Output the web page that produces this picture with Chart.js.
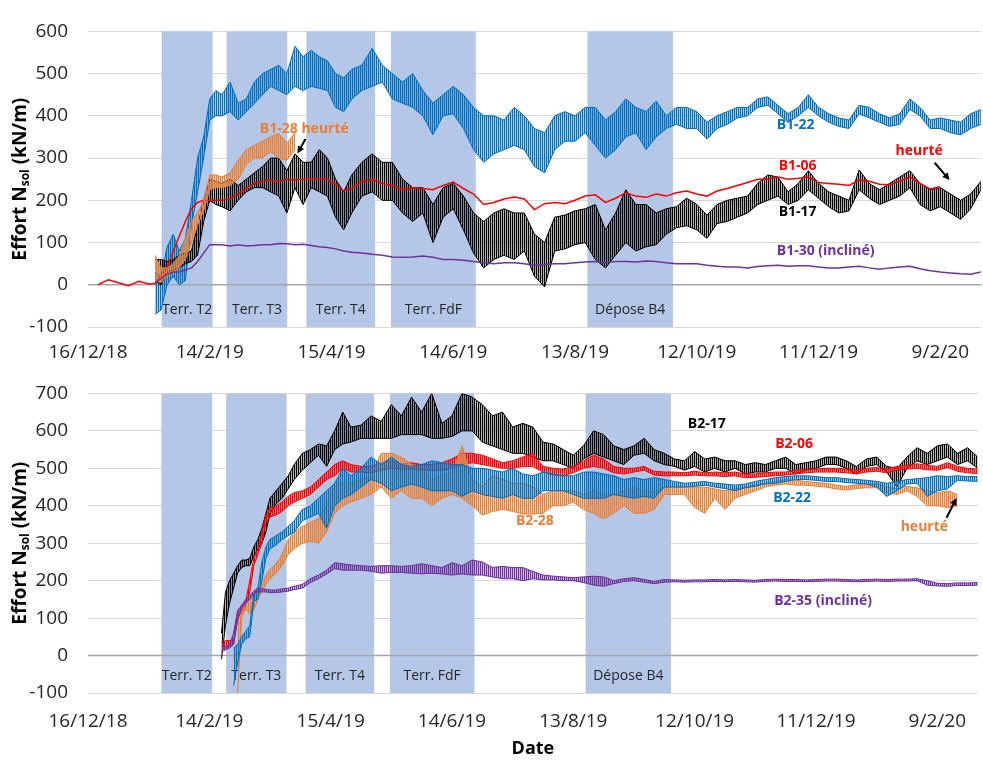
<!DOCTYPE html>
<html>
<head>
<meta charset="utf-8">
<script src="https://cdn.jsdelivr.net/npm/chart.js@4.4.1/dist/chart.umd.min.js"></script>
<style>
  body { margin: 0; background: #fff; }
  #wrap { width: 983px; height: 760px; position: relative; }
  canvas { display: block; }
  #warn { position: absolute; left: 100px; top: 0; color: #f00; font: 12px sans-serif; }
</style>
</head>
<body>
<div id="wrap">
  <canvas id="topChart" width="983" height="362"></canvas>
  <canvas id="bottomChart" width="983" height="398"></canvas>
  <div id="warn"></div>
</div>
<script>
// x axis: days since 16/12/18
const tickDays = [0, 60, 120, 180, 240, 300, 360, 420];
const tickLabels = ["16/12/18", "14/2/19", "15/4/19", "14/6/19", "13/8/19", "12/10/19", "11/12/19", "9/2/20"];

// construction phases (shaded)
const phaseNames = ["Terr. T2", "Terr. T3", "Terr. T4", "Terr. FdF", "Dépose B4"];
const phaseStart = [36.3, 68.3, 107.6, 149.3, 246.1];
const phaseEnd = [61.4, 98.2, 141.5, 191.1, 288.3];

// ---- top panel (B1) ----
const topDays = [5, 10, 15, 20, 25, 30,
  33, 36, 39, 42, 45, 48, 51, 54, 57, 60, 63, 66,
  70, 74, 78, 82, 86, 90, 94, 98, 102, 106, 110, 114, 118, 122, 126, 130,
  135, 140, 145, 150, 155, 160, 165, 170, 175, 180,
  185, 190, 195, 200, 205, 210, 215, 220, 225, 230,
  235, 240, 245, 250, 255, 260, 265, 270, 275, 280,
  285, 290, 295, 300, 305, 310, 315, 320, 325, 330,
  335, 340, 345, 350, 355, 360, 365, 370, 375, 380,
  385, 390, 395, 400, 405, 410, 415, 420, 425, 430,
  435, 440];

const b1_06 = [0, 12, 5, -2, 8, 2,
  3, 22, 40, 80, 115, 150, 180, 195, 200, 200, 200, 200,
  203, 215, 228, 240, 245, 248, 245, 250, 248, 250, 252, 250, 250, 238, 222, 228,
  245, 250, 240, 235, 225, 230, 228, 225, 235, 243,
  228, 215, 190, 195, 203, 208, 203, 178, 192, 195,
  192, 200, 210, 213, 195, 205, 218, 210, 207, 215,
  210, 218, 222, 215, 210, 222, 228, 235, 242, 250,
  250, 255, 250, 252, 255, 242, 240, 238, 235, 248,
  245, 238, 237, 245, 255, 240, 227, 232, null, null,
  null, null];

const b1_22_hi = [null, null, null, null, null, null,
  30, 20, 90, 120, 80, 110, 200, 300, 350, 440, 460, 450,
  480, 430, 440, 480, 500, 510, 520, 500, 565, 540, 555, 540, 530, 500, 490, 510,
  520, 560, 520, 500, 480, 500, 460, 430, 450, 470,
  450, 420, 400, 400, 390, 420, 400, 370, 360, 400,
  410, 400, 420, 420, 390, 410, 440, 420, 410, 435,
  400, 420, 420, 410, 385, 400, 410, 420, 420, 440,
  445, 425, 405, 420, 450, 420, 405, 395, 390, 425,
  420, 405, 395, 405, 440, 420, 390, 395, 390, 385,
  405, 415];
const b1_22_lo = [null, null, null, null, null, null,
  -70, -60, 0, 20, 0, 10, 140, 220, 300, 390, 400, 400,
  410, 390, 410, 430, 450, 470, 460, 450, 470, 460, 470, 465, 460, 420, 410, 440,
  460, 470, 480, 440, 430, 420, 400, 355, 400, 405,
  370, 320, 290, 310, 320, 330, 320, 280, 265, 320,
  340, 340, 360, 330, 300, 320, 350, 360, 320, 350,
  370, 380, 370, 370, 345, 370, 380, 395, 400, 420,
  425, 405, 385, 400, 420, 400, 385, 375, 370, 405,
  395, 385, 375, 380, 415, 400, 370, 370, 360, 355,
  370, 380];

const b1_17_hi = [null, null, null, null, null, null,
  60, 60, 55, 60, 70, 75, 80, 140, 200, 250, 245, 240,
  250, 235, 250, 265, 280, 300, 300, 270, 310, 290, 290, 320, 300, 250, 220, 260,
  290, 310, 290, 290, 250, 230, 230, 190, 230, 240,
  210, 170, 150, 170, 180, 170, 170, 120, 100, 160,
  165, 175, 180, 190, 130, 170, 225, 190, 190, 170,
  180, 185, 205, 190, 165, 190, 200, 205, 210, 240,
  260, 255, 220, 240, 270, 240, 220, 210, 200, 272,
  240, 225, 240, 255, 270, 240, 225, 230, 215, 200,
  215, 245];
const b1_17_lo = [null, null, null, null, null, null,
  10, 0, 30, 35, 40, 50, 55, 70, 150, 200, 190, 185,
  175, 200, 220, 230, 230, 220, 210, 170, 230, 190, 230, 220, 210, 160, 130, 170,
  210, 220, 200, 200, 170, 150, 170, 100, 160, 180,
  130, 75, 40, 60, 70, 60, 80, 20, -5, 80,
  85, 95, 100, 60, 40, 70, 100, 80, 90, 95,
  120, 135, 140, 130, 110, 145, 150, 160, 170, 190,
  200, 210, 190, 200, 225, 205, 185, 170, 175, 225,
  205, 190, 200, 210, 230, 190, 175, 185, 170, 155,
  180, 225];

const b1_28_hi = [null, null, null, null, null, null,
  70, 40, 40, 50, 70, 110, 150, 170, 200, 260, 260, 255,
  265, 295, 320, 330, 340, 350, 358, 335, 360];
const b1_28_lo = [null, null, null, null, null, null,
  10, 5, 20, 30, 40, 60, 100, 140, 175, 225, 230, 230,
  235, 250, 285, 300, 300, 315, 300, 295, 320];

const b1_30 = [null, null, null, null, null, null,
  5, 15, 25, 30, 30, 35, 40, 55, 75, 95, 95, 95,
  92, 95, 92, 93, 95, 95, 98, 97, 95, 96, 93, 90, 88, 85, 80, 77,
  75, 72, 70, 66, 65, 66, 68, 65, 60, 60,
  58, 55, 52, 50, 52, 52, 50, 46, 48, 50,
  50, 52, 54, 55, 52, 55, 55, 54, 56, 55,
  52, 50, 50, 50, 46, 44, 42, 42, 40, 43,
  45, 46, 44, 45, 45, 42, 40, 40, 42, 44,
  40, 37, 40, 42, 44, 38, 33, 30, 28, 26,
  25, 30];

// ---- bottom panel (B2) ----
const bottomDays = [66, 68, 70, 72, 74, 76, 78, 80, 82, 84, 86, 88, 90,
  93, 96, 99, 102,
  106, 110, 114, 118, 122, 126, 130,
  135, 140, 145, 150, 155, 160, 165, 170, 175, 180,
  185, 190, 195, 200, 205, 210, 215, 220, 225, 230,
  235, 240, 245, 250, 255, 260, 265, 270, 275, 280,
  285, 290, 295, 300, 305, 310, 315, 320, 325, 330,
  335, 340, 345, 350, 355, 360, 365, 370, 375, 380,
  385, 390, 395, 400, 405, 410, 415, 420, 425, 430,
  435, 440];

const b2_17_hi = [60, 170, 200, 220, 240, 255, 255, 260, 290, 310, 340, 380, 420,
  440, 460, 480, 510,
  540, 550, 565, 560, 600, 650, 610,
  615, 640, 625, 670, 640, 690, 650, 700, 620, 640,
  700, 690, 670, 640, 650, 610, 620, 610, 570, 565,
  550, 535, 560, 600, 590, 560, 550, 560, 580, 550,
  540, 525, 520, 545, 525, 530, 520, 520, 510, 515,
  510, 520, 530, 510, 515, 520, 530, 530, 520, 505,
  525, 530, 505, 500, 530, 555, 540, 560, 565, 540,
  555, 530];
const b2_17_lo = [-10, 80, 140, 180, 220, 235, 240, 240, 265, 285, 300, 330, 380,
  405, 420, 445, 470,
  495, 515, 535, 505, 550, 565, 570,
  580, 580, 580, 580, 590, 590, 590, 580, 580, 585,
  600, 600, 570, 560, 550, 540, 540, 530, 520, 520,
  510, 500, 525, 540, 530, 520, 510, 535, 540, 520,
  510, 505, 495, 505, 490, 500, 490, 500, 485, 490,
  490, 500, 500, 485, 495, 500, 510, 510, 500, 485,
  505, 510, 490, 450, 500, 520, 510, 520, 530, 510,
  520, 500];

const b2_06_hi = [35, 40, 40, 40, 120, 130, 145, 200, 260, 285, 330, 375, 395,
  400, 410, 425, 435,
  440, 450, 470, 490, 510, 520, 510,
  505, 505, 515, 520, 512, 515, 510, 510, 515, 525,
  540, 540, 535, 525, 515, 520, 530, 540, 505, 500,
  498, 505, 520, 535, 525, 505, 500, 500, 505, 492,
  490, 490, 488, 492, 488, 490, 488, 490, 485, 485,
  488, 490, 490, 495, 497, 498, 500, 500, 498, 495,
  500, 502, 498, 505, 508, 512, 508, 505, 515, 505,
  500, 498];
const b2_06_lo = [15, 20, 25, 30, 100, 115, 130, 170, 240, 270, 300, 355, 370,
  375, 385, 400, 410,
  420, 430, 450, 470, 480, 500, 490,
  490, 488, 495, 500, 498, 498, 495, 495, 495, 500,
  510, 515, 510, 505, 500, 500, 505, 505, 490, 482,
  480, 488, 500, 505, 500, 488, 485, 490, 495, 482,
  480, 480, 480, 482, 480, 480, 478, 480, 475, 476,
  478, 480, 482, 485, 488, 490, 490, 490, 488, 485,
  490, 492, 488, 495, 498, 500, 496, 495, 502, 492,
  488, 486];

const b2_22_hi = [null, null, null, 20, 30, 50, 65, 80, 165, 180, 250, 290, 310,
  320, 330, 345, 360,
  390, 400, 420, 440, 460, 500, 480,
  500, 530, 510, 530, 510, 505, 510, 520, 515, 510,
  510, 500, 500, 495, 490, 500, 485, 480, 490, 485,
  480, 480, 490, 490, 485, 480, 470, 475, 470, 475,
  470, 465, 460, 462, 465, 460, 458, 455, 458, 465,
  470, 475, 478, 480, 480, 478, 475, 475, 472, 470,
  468, 465, 460, 465, 470, 472, 475, 480, 478, 480,
  478, 478];
const b2_22_lo = [null, null, null, -80, -20, 30, 45, 50, 145, 150, 200, 260, 285,
  295, 310, 320, 330,
  360, 370, 380, 340, 400, 420, 430,
  450, 470, 460, 440, 450, 458, 450, 440, 440, 440,
  425, 440, 430, 425, 420, 430, 420, 420, 440, 440,
  440, 430, 420, 420, 420, 430, 425, 420, 425, 420,
  450, 450, 450, 452, 455, 450, 446, 440, 448, 452,
  458, 460, 465, 470, 470, 468, 465, 465, 462, 460,
  458, 450, 425, 440, 458, 460, 425, 440, 445, 468,
  466, 465];

const b2_28_hi = [null, null, null, null, 110, 130, 150, 150, 160, 175, 190, 215, 230,
  245, 270, 310, 330,
  345, 355, 365, 400, 450, 460, 460,
  470, 480, 540, 540, 530, 510, 500, 470, 480, 490,
  560, 470, 450, 480, 470, 460, 460, 450, 430, 440,
  440, 440, 430, 440, 430, 430, 440, 450, 440, 435,
  450, 450, 450, 450, 450, 445, 440, 445, 450, 455,
  460, 465, 470, 468, 465, 462, 460, 455, 452, 456,
  458, 458, 450, 445, 452, 448, 440, 435, 440, 430,
  null, null];
const b2_28_lo = [null, null, null, null, -100, 100, 125, 110, 120, 150, 170, 190, 205,
  220, 240, 270, 285,
  300, 305, 300, 330, 380, 400, 410,
  420, 430, 450, 420, 440, 420, 420, 400, 420, 430,
  420, 400, 375, 385, 390, 385, 378, 378, 380, 400,
  400, 410, 390, 380, 365, 380, 400, 380, 380, 390,
  430, 430, 430, 395, 380, 420, 390, 420, 430, 440,
  450, 455, 458, 455, 455, 452, 450, 445, 442, 446,
  448, 448, 435, 430, 440, 425, 400, 400, 395, 400,
  null, null];

const b2_35_hi = [25, 25, 30, 60, 120, 135, 150, 160, 172, 180, 178, 177, 175,
  175, 178, 180, 185,
  190, 205, 215, 228, 248, 245, 242,
  240, 238, 240, 240, 238, 240, 245, 240, 235, 248,
  240, 255, 250, 235, 238, 235, 235, 225, 215, 212,
  210, 208, 210, 212, 210, 200, 205, 208, 203, 198,
  203, 202, 201, 202, 202, 203, 202, 203, 202, 201,
  203, 204, 203, 203, 202, 203, 204, 204, 203, 202,
  203, 204, 203, 204, 204, 205, 200, 193, 192, 194,
  194, 195];
const b2_35_lo = [10, 15, 20, 30, 95, 125, 140, 150, 165, 170, 170, 170, 168,
  168, 170, 172, 176,
  180, 195, 205, 218, 232, 228, 228,
  228, 225, 220, 222, 222, 220, 218, 220, 218, 215,
  218, 215, 215, 210, 205, 205, 200, 205, 202, 202,
  200, 200, 195, 188, 185, 192, 198, 200, 196, 192,
  196, 197, 196, 197, 197, 198, 197, 198, 197, 196,
  198, 199, 198, 198, 197, 198, 199, 199, 198, 197,
  198, 199, 198, 199, 199, 200, 188, 186, 185, 187,
  187, 188];

const COL = {
  blue: "#0070C0", red: "#FF0000", black: "#000000",
  orange: "#ED7D31", purple: "#7030A0"
};
const BAND = "#B4C7E7";
const FONT = '"Open Sans", sans-serif';

// text labels and arrows, placed in data units (day, kN/m)
const topNotes = [
  { text: "B1-28 heurté", x: 106.6, y: 370, color: COL.orange },
  { text: "B1-22", x: 348.7, y: 379, color: COL.blue },
  { text: "heurté", x: 409.6, y: 316, color: COL.red },
  { text: "B1-06", x: 349.7, y: 282, color: COL.red },
  { text: "B1-17", x: 349.7, y: 172, color: COL.black },
  { text: "B1-30 (incliné)", x: 363.5, y: 81, color: COL.purple }
];
const topArrows = [
  { x1: 107.2, y1: 345, x2: 103.2, y2: 311 },
  { x1: 417.2, y1: 289, x2: 424.6, y2: 248 }
];
const bottomNotes = [
  { text: "B2-17", x: 306, y: 618, color: COL.black },
  { text: "B2-06", x: 349.2, y: 564, color: COL.red },
  { text: "B2-22", x: 348.2, y: 421, color: COL.blue },
  { text: "B2-28", x: 221, y: 358, color: COL.orange },
  { text: "heurté", x: 413.6, y: 343, color: COL.orange },
  { text: "B2-35 (incliné)", x: 363.5, y: 145, color: COL.purple }
];
const bottomArrows = [
  { x1: 424.6, y1: 368, x2: 429.5, y2: 421 }
];

function rgba(hex, a) {
  const n = parseInt(hex.slice(1), 16);
  return `rgba(${(n >> 16) & 255},${(n >> 8) & 255},${n & 255},${a})`;
}

// vertical hatching, looks like the daily oscillation of the gauges
function hatch(color, light) {
  const c = document.createElement("canvas");
  c.width = 2;
  c.height = 1;
  const g = c.getContext("2d");
  g.fillStyle = color;
  g.fillRect(0, 0, 1, 1);
  g.fillStyle = rgba(color, light);
  g.fillRect(1, 0, 1, 1);
  return g.createPattern(c, "repeat");
}

function pts(days, vals) {
  const out = [];
  days.forEach((d, i) => {
    if (vals[i] !== null && vals[i] !== undefined) out.push({ x: d, y: vals[i] });
  });
  return out;
}

// noisy signal drawn as its min / max envelope
function envelope(days, hi, lo, color, light) {
  return [
    { data: pts(days, hi), borderColor: color, backgroundColor: hatch(color, light), fill: "+1", borderWidth: 1, pointRadius: 0 },
    { data: pts(days, lo), borderColor: color, fill: false, borderWidth: 1, pointRadius: 0 }
  ];
}

function single(days, vals, color, w) {
  return { data: pts(days, vals), borderColor: color, fill: false, borderWidth: w, pointRadius: 0 };
}

// check lengths
const warn = [];
[["b1_06", b1_06], ["b1_22_hi", b1_22_hi], ["b1_22_lo", b1_22_lo], ["b1_17_hi", b1_17_hi], ["b1_17_lo", b1_17_lo], ["b1_30", b1_30]].forEach(([n, a]) => {
  if (a.length !== topDays.length) warn.push(n + ":" + a.length);
});
[["b2_17_hi", b2_17_hi], ["b2_17_lo", b2_17_lo], ["b2_06_hi", b2_06_hi], ["b2_06_lo", b2_06_lo], ["b2_22_hi", b2_22_hi], ["b2_22_lo", b2_22_lo], ["b2_28_hi", b2_28_hi], ["b2_28_lo", b2_28_lo], ["b2_35_hi", b2_35_hi], ["b2_35_lo", b2_35_lo]].forEach(([n, a]) => {
  if (a.length !== bottomDays.length) warn.push(n + ":" + a.length);
});
if (warn.length) document.getElementById("warn").textContent = "LEN " + warn.join(" ");

function drawArrow(ctx, x1, y1, x2, y2) {
  const ang = Math.atan2(y2 - y1, x2 - x1);
  const h = 8;
  ctx.strokeStyle = "#000";
  ctx.fillStyle = "#000";
  ctx.lineWidth = 2;
  ctx.beginPath();
  ctx.moveTo(x1, y1);
  ctx.lineTo(x2 - Math.cos(ang) * h * 0.7, y2 - Math.sin(ang) * h * 0.7);
  ctx.stroke();
  ctx.beginPath();
  ctx.moveTo(x2, y2);
  ctx.lineTo(x2 - h * Math.cos(ang - 0.45), y2 - h * Math.sin(ang - 0.45));
  ctx.lineTo(x2 - h * Math.cos(ang + 0.45), y2 - h * Math.sin(ang + 0.45));
  ctx.closePath();
  ctx.fill();
}

function decorPlugin(notes, arrows, phaseLabelY) {
  return {
    id: "decor",
    beforeDatasetsDraw(chart) {
      const { ctx, chartArea: a, scales: { x, y } } = chart;
      ctx.save();
      ctx.fillStyle = BAND;
      const yTop = y.getPixelForValue(y.max);
      const yBot = y.getPixelForValue(y.min);
      phaseStart.forEach((s, i) => {
        const x0 = x.getPixelForValue(s);
        const x1 = x.getPixelForValue(phaseEnd[i]);
        ctx.fillRect(x0, yTop, x1 - x0, yBot - yTop);
      });
      // horizontal axis at zero
      const y0 = y.getPixelForValue(0);
      ctx.strokeStyle = "#A6A6A6";
      ctx.lineWidth = 1.5;
      ctx.beginPath();
      ctx.moveTo(a.left, y0);
      ctx.lineTo(a.right, y0);
      ctx.stroke();
      ctx.fillStyle = "#262626";
      ctx.font = "14px " + FONT;
      ctx.textAlign = "center";
      ctx.textBaseline = "middle";
      phaseNames.forEach((n, i) => {
        const cx = x.getPixelForValue((phaseStart[i] + phaseEnd[i]) / 2);
        ctx.fillText(n, cx, y.getPixelForValue(phaseLabelY));
      });
      ctx.restore();
    },
    afterDatasetsDraw(chart) {
      const { ctx, scales: { x, y } } = chart;
      ctx.save();
      ctx.font = "bold 14px " + FONT;
      ctx.textAlign = "center";
      ctx.textBaseline = "middle";
      notes.forEach(n => {
        ctx.fillStyle = n.color;
        ctx.fillText(n.text, x.getPixelForValue(n.x), y.getPixelForValue(n.y));
      });
      arrows.forEach(r => {
        drawArrow(ctx, x.getPixelForValue(r.x1), y.getPixelForValue(r.y1), x.getPixelForValue(r.x2), y.getPixelForValue(r.y2));
      });
      ctx.restore();
    },
    afterDraw(chart) {
      // y title with subscript
      const { ctx, chartArea: a } = chart;
      const big = "bold 19px " + FONT;
      const small = "bold 12px " + FONT;
      const parts = [["Effort N", big, 0], ["sol", small, 5], [" (kN/m)", big, 0]];
      ctx.save();
      let total = 0;
      parts.forEach(p => { ctx.font = p[1]; total += ctx.measureText(p[0]).width; });
      ctx.translate(21, (a.top + a.bottom) / 2);
      ctx.rotate(-Math.PI / 2);
      ctx.fillStyle = "#000";
      ctx.textBaseline = "middle";
      ctx.textAlign = "left";
      let cx = -total / 2;
      parts.forEach(p => {
        ctx.font = p[1];
        ctx.fillText(p[0], cx, p[2]);
        cx += ctx.measureText(p[0]).width;
      });
      ctx.restore();
    }
  };
}

function makeChart(id, datasets, yMax, padTop, xHeight, xPad, notes, arrows, phaseLabelY, withTitle) {
  return new Chart(document.getElementById(id), {
    type: "line",
    data: { datasets },
    plugins: [decorPlugin(notes, arrows, phaseLabelY)],
    options: {
      responsive: false,
      animation: false,
      devicePixelRatio: 1,
      layout: { padding: { top: padTop, right: 0, bottom: 0, left: 0 } },
      plugins: { legend: { display: false }, tooltip: { enabled: false } },
      elements: { line: { tension: 0 } },
      scales: {
        x: {
          type: "linear",
          min: 0,
          max: 440,
          afterBuildTicks: s => { s.ticks = tickDays.map(v => ({ value: v })); },
          afterFit: s => { s.height = xHeight; },
          ticks: {
            autoSkip: false,
            maxRotation: 0,
            padding: xPad,
            color: "#262626",
            font: { family: FONT, size: 19 },
            callback: v => tickLabels[tickDays.indexOf(v)]
          },
          grid: { display: false, drawTicks: false },
          border: { display: false },
          title: {
            display: withTitle,
            text: "Date",
            color: "#000",
            font: { family: FONT, size: 18, weight: "bold" },
            padding: { top: 0, bottom: 0 }
          }
        },
        y: {
          min: -100,
          max: yMax,
          afterFit: s => { s.width = 88; },
          ticks: {
            stepSize: 100,
            padding: 20,
            color: "#262626",
            font: { family: FONT, size: 19 }
          },
          grid: {
            drawTicks: false,
            color: c => (c.tick && c.tick.value === 0 ? "#A6A6A6" : "#D9D9D9"),
            lineWidth: 1
          },
          border: { display: false }
        }
      }
    }
  });
}

const topSets = [
  single(topDays, b1_30, COL.purple, 1.5),
  ...envelope(topDays, b1_28_hi, b1_28_lo, COL.orange, 0.35),
  single(topDays, b1_06, COL.red, 1.5),
  ...envelope(topDays, b1_17_hi, b1_17_lo, COL.black, 0.3),
  ...envelope(topDays, b1_22_hi, b1_22_lo, COL.blue, 0.35)
];

const bottomSets = [
  ...envelope(bottomDays, b2_35_hi, b2_35_lo, COL.purple, 0.35),
  ...envelope(bottomDays, b2_22_hi, b2_22_lo, COL.blue, 0.35),
  ...envelope(bottomDays, b2_28_hi, b2_28_lo, COL.orange, 0.35),
  ...envelope(bottomDays, b2_06_hi, b2_06_lo, COL.red, 0.4),
  ...envelope(bottomDays, b2_17_hi, b2_17_lo, COL.black, 0.3)
];

makeChart("topChart", topSets, 600, 17, 35, 14, topNotes, topArrows, -60, false);
makeChart("bottomChart", bottomSets, 700, 23, 67, 17, bottomNotes, bottomArrows, -55, true);
</script>
</body>
</html>
